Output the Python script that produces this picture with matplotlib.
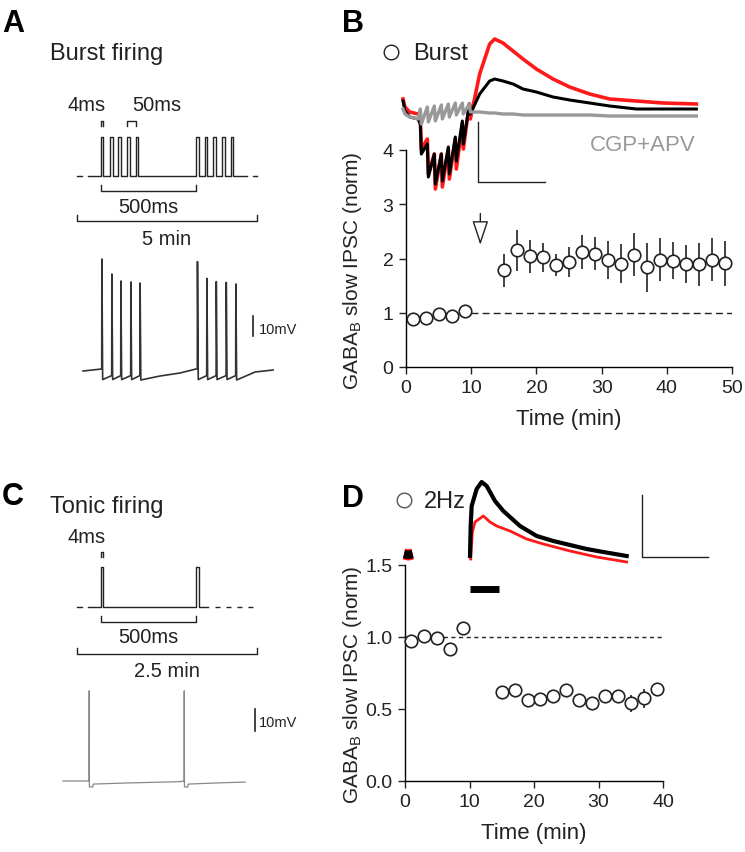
import numpy as np
import matplotlib
matplotlib.use("Agg")
import matplotlib.pyplot as plt

plt.rcParams["font.family"] = ["Liberation Sans", "DejaVu Sans"]
plt.rcParams["mathtext.fontset"] = "custom"
plt.rcParams["mathtext.rm"] = "Liberation Sans"

W, H = 745, 853
INK = "#222222"
RED = "#ff1a1a"

# --- panel B: burst protocol, normalised GABAB slow IPSC ---
B_TIME = [1, 3, 5, 7, 9, 15, 17, 19, 21, 23, 25, 27, 29, 31, 33, 35, 37, 39, 41, 43, 45, 47, 49]
B_MEAN = [0.88, 0.90, 0.98, 0.94, 1.04, 1.78, 2.15, 2.04, 2.02, 1.88, 1.93, 2.12, 2.09,
          1.98, 1.90, 2.07, 1.84, 1.98, 1.96, 1.89, 1.89, 1.98, 1.91]
B_SEM = [0.03, 0.03, 0.03, 0.03, 0.03, 0.30, 0.38, 0.31, 0.27, 0.20, 0.28, 0.31, 0.30,
         0.35, 0.36, 0.40, 0.45, 0.39, 0.34, 0.35, 0.40, 0.39, 0.42]
B_ARROW_X = 11.4

# --- panel D: 2 Hz protocol ---
D_TIME = [1, 3, 5, 7, 9, 15, 17, 19, 21, 23, 25, 27, 29, 31, 33, 35, 37, 39]
D_MEAN = [0.97, 1.01, 0.99, 0.92, 1.06, 0.615, 0.634, 0.562, 0.569, 0.588, 0.634, 0.562,
          0.539, 0.592, 0.592, 0.539, 0.574, 0.638]
D_SEM = [0.02, 0.02, 0.02, 0.02, 0.02, 0.02, 0.02, 0.02, 0.02, 0.02, 0.02, 0.02,
         0.02, 0.02, 0.02, 0.06, 0.065, 0.02]
D_STIM = [10, 14.6]   # black bar, min
D_STIM_Y = 1.33

# --- example IPSC traces, panel B inset (ms, pA) ---
B_TRACE_T = [0, 6, 20, 45, 52, 55, 73, 76, 94, 97, 115, 118, 136, 139, 157, 160, 178, 181,
             199, 202, 230, 260, 275, 300, 330, 360, 400, 450, 500, 560, 620, 700, 780, 880]
B_RED = [10, 2, -3, -5, -10, -40, -30, -65, -45, -80, -45, -78, -40, -70, -30, -60, -15, -40,
         5, -10, 35, 65, 70, 66, 58, 50, 40, 30, 22, 15, 10, 8, 6, 5]
B_BLACK = [8, -2, -8, -10, -15, -45, -35, -68, -45, -75, -45, -72, -38, -65, -28, -52, -12, -35,
           5, -5, 15, 28, 30, 28, 25, 20, 17, 12, 9, 6, 3, 0, 0, 0]
B_GRAY = [0, -5, -8, -10, 0, -15, 2, -13, 3, -12, 4, -10, 5, -8, 6, -6, 6, -5,
          5, -3, -3, -4, -4, -5, -5, -6, -6, -6, -6, -6, -7, -7, -7, -7]

# --- panel D inset traces (ms, pA) ---
D_BLACK_T = [0, 2, 5, 20, 35, 50, 75, 100, 150, 200, 250, 300, 350, 400, 470]
D_BLACK = [3, 33, 53, 70, 77, 73, 58, 48, 33, 23, 18, 14, 10, 7, 3]
D_RED_T = [2, 7, 15, 40, 60, 80, 120, 170, 220, 300, 380, 470]
D_RED = [0, 27, 37, 43, 37, 33, 28, 20, 15, 8, 2, -3]
D_ART_T = [-198, -185, -172]
D_ART = [5, 4, 5]

# --- stimulation protocols (schematic ms) ---
BURST_ONSETS = [0, 48, 92, 137, 182, 497, 542, 587, 632, 677]
TONIC_ONSETS = [0, 497]
PULSE_W = 14

# --- membrane potential responses (ms, mV) ---
A_SPIKE_T = [0, 52, 99, 151, 199, 498, 547, 596, 648, 698]
A_SPIKE_PEAK = [-4, -11.5, -15, -15.5, -16, -5.3, -13.7, -15.3, -15.7, -16.5]
A_PRE = [-59, -62.3, -62.3, -62.3, -62.3, -59, -62.3, -62.3, -62.3, -62.3]
A_TROUGH = [-64.3, -64.3, -64.3, -64.3, -64.5, -64.3, -64.3, -64.3, -64.3, -64.5]
A_REST_T = [-97, 304, 408, 491, 799, 893]
A_REST_V = [-60, -62.5, -61, -59, -60.5, -59.5]

C_SPIKE_T = [0, 500]
C_SPIKE_PEAK = [-19, -19]
C_AHP = [-62.7, -61.4]
C_REST_T = [-137, 200, 480, 700, 821]
C_REST_V = [-60, -60.9, -60.3, -60.8, -60.5]

fig = plt.figure(figsize=(W / 100, H / 100), dpi=100)


def pixel_axes(x0, y0, x1, y1):
    return fig.add_axes([x0 / W, 1 - y1 / H, (x1 - x0) / W, (y1 - y0) / H])


def scaled_axes(box, x_ref, y_ref):
    # box in pixels; x_ref / y_ref = (pixel, value, units per pixel)
    x0, y0, x1, y1 = box
    ax = pixel_axes(x0, y0, x1, y1)
    px, xv, dx = x_ref
    py, yv, dy = y_ref
    ax.set_xlim(xv + (x0 - px) * dx, xv + (x1 - px) * dx)
    ax.set_ylim(yv - (y1 - py) * dy, yv + (py - y0) * dy)
    ax.axis("off")
    return ax


# overlay in pixel coordinates for annotations
ov = pixel_axes(0, 0, W, H)
ov.set_xlim(0, W)
ov.set_ylim(H, 0)
ov.axis("off")


def bracket(x0, x1, y, tick):
    ov.plot([x0, x0, x1, x1], [y - tick, y, y, y - tick], color=INK, lw=1)


def label(x, y, s, size=14.5, ha="center", **kw):
    ov.text(x, y, s, fontsize=size, ha=ha, va="baseline", color=kw.pop("color", INK), **kw)


for s, x, y in [("A", 2, 32), ("B", 342, 32), ("C", 2, 505), ("D", 342, 507)]:
    label(x, y, s, size=22, ha="left", fontweight="bold", color="black")

label(50, 60, "Burst firing", size=17, ha="left")
label(87, 111, "4ms")
label(157, 111, "50ms")
label(148, 213, "500ms")
label(167, 245, "5 min")
label(259, 334, "10mV", size=10.5, ha="left")
bracket(100.6, 103.3, 122, -5)
bracket(127.0, 135.7, 122, -5)
bracket(100.6, 196.3, 192, 6)
bracket(77, 257, 222, 6)

label(50, 513, "Tonic firing", size=17, ha="left")
label(87, 543, "4ms")
label(148, 643, "500ms")
label(167, 677, "2.5 min")
label(259, 727, "10mV", size=10.5, ha="left")
bracket(100.6, 103.3, 553, -5)
bracket(100.6, 196.0, 623, 6)
bracket(77, 257, 655, 6)

ov.plot([391], [53], "o", ms=10.5, mfc="white", mec=INK, mew=1)
label(413, 60, "Burst", size=17, ha="left")
label(590, 151, "CGP+APV", size=16, ha="left", color="#999999")
ov.plot([404], [501], "o", ms=10.5, mfc="white", mec="#555555", mew=1)
label(424, 508, "2Hz", size=17, ha="left")


def pulse_train(ax, onsets, x_start, x_end):
    xs, ys = [x_start], [0]
    for t in onsets:
        xs += [t, t, t + PULSE_W, t + PULSE_W]
        ys += [0, 1, 1, 0]
    xs.append(x_end)
    ys.append(0)
    ax.plot(xs, ys, color=INK, lw=1)


# A protocol
pa = scaled_axes((70, 100, 270, 185), (100.6, 0, 5.21), (177, 0, 1 / 39))
pulse_train(pa, BURST_ONSETS, -64, 761)
pa.plot([-121, -98], [0, 0], color=INK, lw=1)
pa.plot([796, 816], [0, 0], color=INK, lw=1)

# C protocol
pc = scaled_axes((70, 560, 270, 615), (100.6, 0, 5.21), (608, 0, 1 / 40))
pulse_train(pc, TONIC_ONSETS, -64, 561)
pc.plot([-121, -98], [0, 0], color=INK, lw=1)
pc.plot([596, 796], [0, 0], color=INK, lw=1, linestyle=(0, (3.6, 4.3)))


def spike_trace(spike_t, peaks, pre, post, rest_t, rest_v):
    t = list(rest_t)
    v = list(rest_v)
    for i, s in enumerate(spike_t):
        t += [s, s + 1, s + 5]
        v += [pre[i], peaks[i], post[i]]
    order = np.argsort(t, kind="stable")
    return np.array(t)[order], np.array(v)[order]


# A voltage trace
ta = scaled_axes((75, 250, 290, 395), (101.7, 0, 5.21), (372, -60, 0.5))
t, v = spike_trace(A_SPIKE_T, A_SPIKE_PEAK, A_PRE, A_TROUGH, A_REST_T, A_REST_V)
ta.plot(t, v, color="#333333", lw=1.2)
ta.plot([789, 789], [-42.5, -32.5], color=INK, lw=1.2)

# C voltage trace
tc = scaled_axes((55, 680, 290, 800), (89, 0, 5.26), (782, -60, 1 / 2.2))
ct, cv = list(C_REST_T), list(C_REST_V)
for i, s in enumerate(C_SPIKE_T):
    ct += [s, s + 1, s + 2, s + 20, s + 22]
    cv += [-60, C_SPIKE_PEAK[i], C_AHP[0], C_AHP[0], C_AHP[1]]
order = np.argsort(ct, kind="stable")
tc.plot(np.array(ct)[order], np.array(cv)[order], color="#888888", lw=0.9)
tc.plot([873, 873], [-37.3, -27.3], color=INK, lw=1.2)

# summary plots
axb = fig.add_axes([406 / W, 1 - 368 / H, 326 / W, 217 / H])
axd = fig.add_axes([405 / W, 1 - 782 / H, 258 / W, 216 / H])

for ax in (axb, axd):
    ax.set_facecolor("none")
    ax.spines["top"].set_visible(False)
    ax.spines["right"].set_visible(False)
    ax.spines["left"].set_linewidth(1)
    ax.spines["bottom"].set_linewidth(1)
    ax.tick_params(direction="out", length=5, width=1, labelsize=14, colors=INK, pad=4)
    ax.set_xlabel("Time (min)", fontsize=16, color=INK, labelpad=8)
    ax.set_ylabel(r"GABA$_{\rm B}$ slow IPSC (norm)", fontsize=15, color=INK)

axb.plot([10, 50], [1, 1], color=INK, lw=1, linestyle=(0, (5, 3)), zorder=1)
axb.errorbar(B_TIME, B_MEAN, yerr=B_SEM, fmt="o", ms=9, mfc="white", mec=INK, mew=1.2,
             ecolor=INK, elinewidth=1.2, capsize=0, clip_on=False, zorder=3)
axb.annotate("", xy=(B_ARROW_X, 2.2), xytext=(B_ARROW_X, 2.88),
             arrowprops=dict(arrowstyle="-|>,head_length=1.5,head_width=0.5",
                             fc="white", ec=INK, lw=1))
axb.set_xlim(0, 50)
axb.set_ylim(0, 4)
axb.set_xticks([0, 10, 20, 30, 40, 50])
axb.set_yticks([0, 1, 2, 3, 4])
axb.yaxis.set_label_coords(-0.13, 0.45)

axd.plot([0, 40], [1, 1], color=INK, lw=1, linestyle=(0, (3, 2.5)), zorder=1)
axd.errorbar(D_TIME, D_MEAN, yerr=D_SEM, fmt="o", ms=9, mfc="white", mec=INK, mew=1.2,
             ecolor=INK, elinewidth=1.2, capsize=0, clip_on=False, zorder=3)
axd.plot(D_STIM, [D_STIM_Y, D_STIM_Y], color="black", lw=5, solid_capstyle="butt", clip_on=False)
axd.set_xlim(0, 40)
axd.set_ylim(0, 1.5)
axd.set_xticks([0, 10, 20, 30, 40])
axd.set_yticks([0, 0.5, 1.0, 1.5])
axd.set_yticklabels(["0.0", "0.5", "1.0", "1.5"])
axd.yaxis.set_label_coords(-0.16, 0.45)

# B inset traces
ib = scaled_axes((380, 30, 710, 200), (403, 0, 3), (110, 0, 1))
ib.plot(B_TRACE_T, B_RED, color=RED, lw=2.6)
ib.plot(B_TRACE_T, B_BLACK, color="black", lw=2.2)
ib.plot(B_TRACE_T, B_GRAY, color="#999999", lw=2.4)
ib.plot([225, 225, 426], [-13, -73, -73], color=INK, lw=1)

# D inset traces
idd = scaled_axes((380, 460, 720, 575), (470, 0, 3), (560, 0, 1))
idd.plot(D_ART_T, D_ART, color=RED, lw=8, solid_capstyle="butt")
idd.plot(D_ART_T, D_ART, color="black", lw=6, solid_capstyle="butt")
idd.plot(D_RED_T, D_RED, color=RED, lw=2)
idd.plot(D_BLACK_T, D_BLACK, color="black", lw=3)
idd.plot([516, 516, 714], [64, 2, 2], color=INK, lw=1)

fig.savefig("out.png", dpi=100)
